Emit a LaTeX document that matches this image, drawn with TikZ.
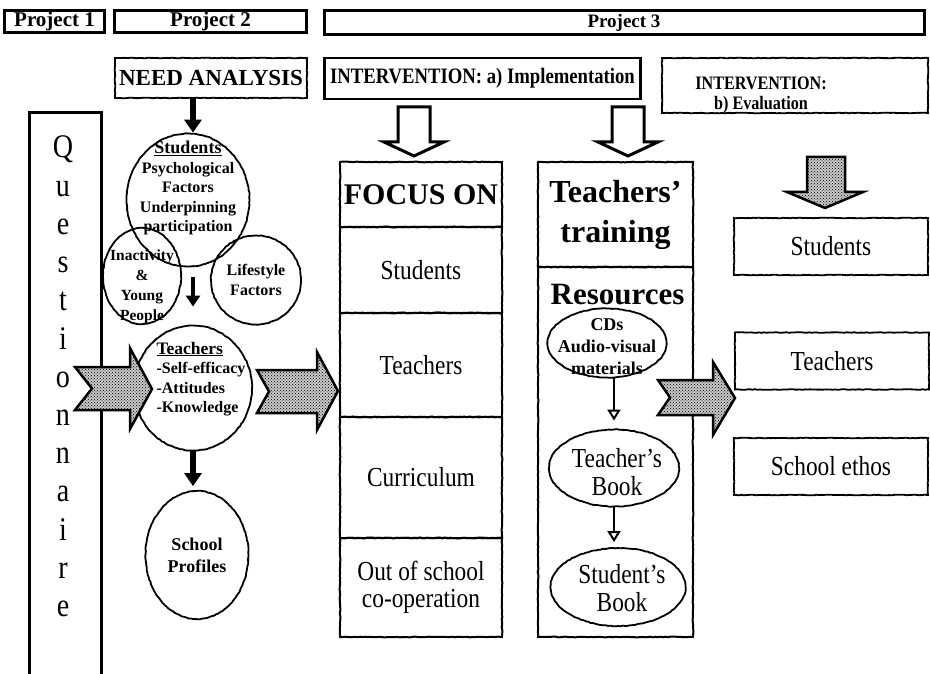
\documentclass[tikz,border=0pt]{standalone}
\usepackage{fontspec}
\setmainfont{Liberation Serif}
\newfontfamily\narrowfont[FakeStretch=0.85]{Liberation Serif}
\usetikzlibrary{positioning,shapes.geometric,arrows.meta,patterns,decorations.pathmorphing}

\begin{document}
\begin{tikzpicture}[x=1pt,y=-1pt,
    projbox/.style={draw, line width=3pt, inner sep=0pt, outer sep=0pt, font=\bfseries\fontsize{21}{23}\selectfont},
    rough/.style={draw, line width=1.8pt, inner sep=1pt, outer sep=0pt, decorate, decoration={random steps, segment length=2.5pt, amplitude=0.35pt}},
    cell/.style={rough, line width=2pt, align=center, font=\narrowfont\fontsize{27.5}{27}\selectfont},
    evalbox/.style={rough, minimum width=194pt, minimum height=57pt, font=\narrowfont\fontsize{27.5}{27}\selectfont},
    blob/.style={draw, ellipse, line width=1.8pt, inner sep=0pt, align=center, decorate, decoration={random steps, segment length=2.5pt, amplitude=0.35pt}},
    circtext/.style={align=center, font=\bfseries\fontsize{16}{19.5}\selectfont},
    booktext/.style={align=center, font=\narrowfont\fontsize{27.5}{28}\selectfont},
    fatarrow/.style={line width=6pt, -{Triangle[width=17pt,length=13pt]}},
    thinarrow/.style={line width=2pt, -{Triangle[open,width=13pt,length=11pt]}},
    grayarrow/.style={draw, line width=2.5pt, line join=miter, preaction={fill=black!22}, pattern=crosshatch dots},
    hollowarrow/.style={draw, line width=3pt, line join=miter, fill=white},
    qletter/.style={anchor=base, inner sep=0pt, font=\narrowfont\fontsize{33}{33}\selectfont}]
    \useasboundingbox (0,0) rectangle (930,674);

    % projects
    \node[projbox, minimum width=100pt, minimum height=22pt] (p1) at (54.5,21.5) {Project 1};
    \node[projbox, minimum width=192pt, minimum height=22pt] (p2) at (210.5,21.5) {Project 2};
    \node[projbox, minimum width=600pt, minimum height=24pt, font=\bfseries\fontsize{19}{21}\selectfont] (p3) at (624,23) {Project 3};

    \node[rough, minimum width=192pt, minimum height=40pt, font=\bfseries\fontsize{23}{25}\selectfont] (need) at (211,78) {NEED ANALYSIS};
    \node[draw, line width=2.5pt, minimum width=316pt, minimum height=41pt, inner sep=1pt, font=\narrowfont\bfseries\fontsize{22}{24}\selectfont] (inta) at (482.5,78.5) {INTERVENTION: a) Implementation};
    \node[rough, minimum width=266pt, minimum height=55pt] (intb) at (795,85.5) {};
    \node[align=center, font=\narrowfont\bfseries\fontsize{19}{20}\selectfont] (intbtext) at (761,95) {INTERVENTION:\\b) Evaluation};

    % questionnaire
    \node[draw, line width=3pt, minimum width=72pt, minimum height=562pt, outer sep=0pt] (quest) at (65,394) {};
    \foreach \ch [count=\i from 0] in {Q,u,e,s,t,i,o,n,n,a,i,r,e}
        \node[qletter] (q\i) at (63,158+38.2*\i) {\ch};

    % need analysis
    \node[blob, minimum width=123pt, minimum height=133pt] (stud) at (188,200) {};
    \node[circtext] (studtext) at (188,188) {\underline{\fontsize{18}{19.5}\selectfont Students}\\Psychological\\Factors\\Underpinning\\participation};
    \node[blob, minimum width=78pt, minimum height=96pt] (inact) at (142,276) {};
    \node[circtext, font=\bfseries\fontsize{15.5}{20}\selectfont] (inacttext) at (142,287) {Inactivity\\\&\\Young\\People};
    \node[blob, circtext, minimum width=90pt, minimum height=89pt] (life) at (256,280) {Lifestyle\\Factors};
    \node[blob, minimum width=118pt, minimum height=125pt] (teach) at (193,388) {};
    \node[circtext, align=left] (teachtext) at (201,379) {\underline{\fontsize{17.5}{19.5}\selectfont Teachers}\\-Self-efficacy\\-Attitudes\\-Knowledge};
    \node[blob, circtext, font=\bfseries\fontsize{18}{22}\selectfont, minimum width=103pt, minimum height=128pt] (prof) at (197,555) {School\\Profiles};

    \draw[fatarrow] (need.south -| teach.north) -- (stud.north -| teach.north);
    \draw[fatarrow, line width=4.5pt, -{Triangle[width=14pt,length=11pt]}, shorten <=10pt, shorten >=18pt] (stud.south -| teach.north) -- (teach.north);
    \draw[fatarrow, shorten >=4pt] (teach.south) -- (teach.south |- prof.north);

    % focus on
    \node[cell, minimum width=162pt, minimum height=65pt, font=\bfseries\fontsize{30}{30}\selectfont] (focus) at (421,194.5) {FOCUS ON};
    \node[cell, minimum width=162pt, minimum height=86pt, below=0pt of focus] (fstud) {Students};
    \node[cell, minimum width=162pt, minimum height=104pt, below=0pt of fstud] (fteach) {Teachers};
    \node[cell, minimum width=162pt, minimum height=121pt, below=0pt of fteach] (fcurr) {Curriculum};
    \node[cell, minimum width=162pt, minimum height=99pt, below=0pt of fcurr] (fout) {Out of school\\co-operation};

    % teachers' training
    \node[cell, minimum width=155pt, minimum height=105pt, font=\bfseries\fontsize{32}{40}\selectfont] (train) at (615.5,214.5) {Teachers’\\training};
    \node[cell, minimum width=155pt, minimum height=370pt, below=0pt of train] (res) {};
    \node[anchor=north, inner sep=0pt, font=\bfseries\fontsize{31}{31}\selectfont] (restitle) at ([xshift=2pt,yshift=-17pt]res.north) {Resources};
    \node[blob, minimum width=119pt, minimum height=69pt] (cds) at (607,343) {};
    \node[circtext, font=\bfseries\fontsize{18}{22}\selectfont] (cdstext) at (607,347) {CDs\\Audio-visual\\materials};
    \node[blob, minimum width=130pt, minimum height=77pt] (tbook) at (614,468) {};
    \node[booktext] (tbooktext) at (617,472) {Teacher’s\\Book};
    \node[blob, minimum width=135pt, minimum height=78pt] (sbook) at (618,587) {};
    \node[booktext] (sbooktext) at (622,588) {Student’s\\Book};
    \draw[thinarrow, shorten >=8pt] (cds.south -| tbook.north) -- (tbook.north);
    \draw[thinarrow, shorten >=5pt] (tbook.south) -- (tbook.south |- sbook.north);

    % evaluation
    \node[evalbox] (estud) at (831,246.5) {Students};
    \node[evalbox] (eteach) at (832,361) {Teachers};
    \node[evalbox] (eethos) at (831,466.5) {School ethos};

    % block arrows
    \foreach \cx in {414,628}
        \draw[hollowarrow] (\cx-16,107) -- (\cx+16,107) -- (\cx+16,142) -- (\cx+30,142) -- (\cx,156) -- (\cx-30,142) -- (\cx-16,142) -- cycle;
    \draw[grayarrow] (807,157) -- (845,157) -- (845,192) -- (863,192) -- (825,208) -- (787,192) -- (807,192) -- cycle;
    \draw[grayarrow] (75,367) -- (130,367) -- (130,348) -- (152,389) -- (130,429) -- (130,410) -- (75,410) -- (92,388.5) -- cycle;
    \draw[grayarrow] (257,370) -- (317,370) -- (317,352) -- (338,391) -- (317,430) -- (317,413) -- (257,413) -- (269,391.5) -- cycle;
    \draw[grayarrow] (658,380) -- (713,380) -- (713,362) -- (735,398) -- (713,435) -- (713,415) -- (658,415) -- (670,397.5) -- cycle;
\end{tikzpicture}
\end{document}
